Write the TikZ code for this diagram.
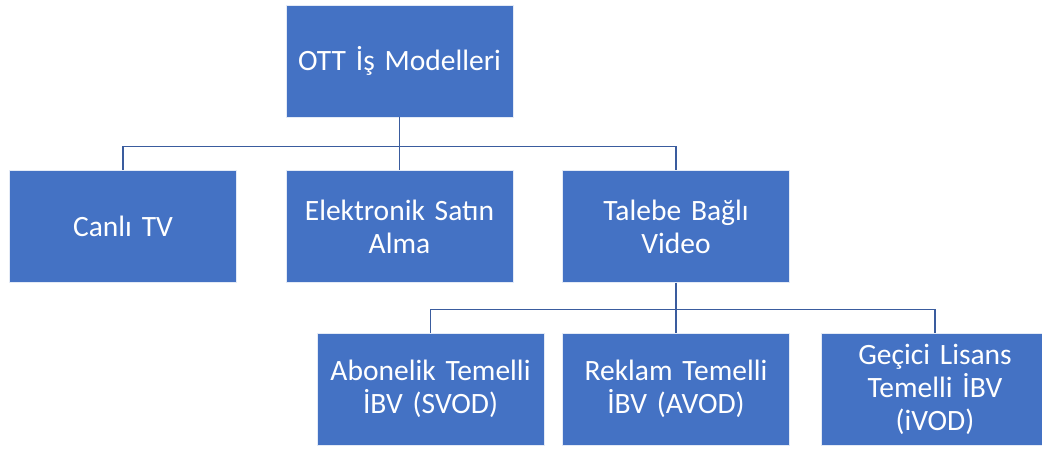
\documentclass[tikz,border=0pt]{standalone}
\usepackage{fontspec}
\setmainfont{Carlito}
\definecolor{boxblue}{HTML}{4472C4}
\definecolor{linkblue}{RGB}{58,92,158}
\tikzset{
  orgbox/.style={rectangle, fill=boxblue, draw=white!85!boxblue, line width=0.8pt,
    minimum width=227pt, minimum height=112pt, inner sep=4pt,
    text=white, align=center, text width=215pt,
    font=\fontsize{29.5pt}{33pt}\selectfont},
  link/.style={draw=linkblue, line width=1.6pt}
}
\begin{document}
\begin{tikzpicture}[x=1pt, y=-1pt]
  \useasboundingbox (0,0) rectangle (1042,450);
  \clip (0,0) rectangle (1042,450);
  % top level
  \node[orgbox] (root) at (399.5,61) {OTT İş Modelleri};
  % second level
  \node[orgbox] (canli) at (123,226.5) {Canlı TV};
  \node[orgbox] (elek)  at (399.5,226.5) {Elektronik Satın\\Alma};
  \node[orgbox] (talep) at (676,226.5) {Talebe Bağlı\\Video};
  % third level
  \node[orgbox] (svod) at (430.5,389) {Abonelik Temelli\\İBV (SVOD)};
  \node[orgbox] (avod) at (676,389) {Reklam Temelli\\İBV (AVOD)};
  \node[orgbox] (ivod) at (935,389) {Geçici Lisans\\Temelli İBV\\(iVOD)};
  % connectors
  \draw[link] (root.south) -- (elek.north);
  \draw[link] (root.south) -- ++(0,29) coordinate (bus1) -| (canli.north);
  \draw[link] (bus1) -| (talep.north);
  \draw[link] (talep.south) -- (avod.north);
  \draw[link] (talep.south) -- ++(0,26.5) coordinate (bus2) -| (svod.north);
  \draw[link] (bus2) -| (ivod.north);
\end{tikzpicture}
\end{document}
